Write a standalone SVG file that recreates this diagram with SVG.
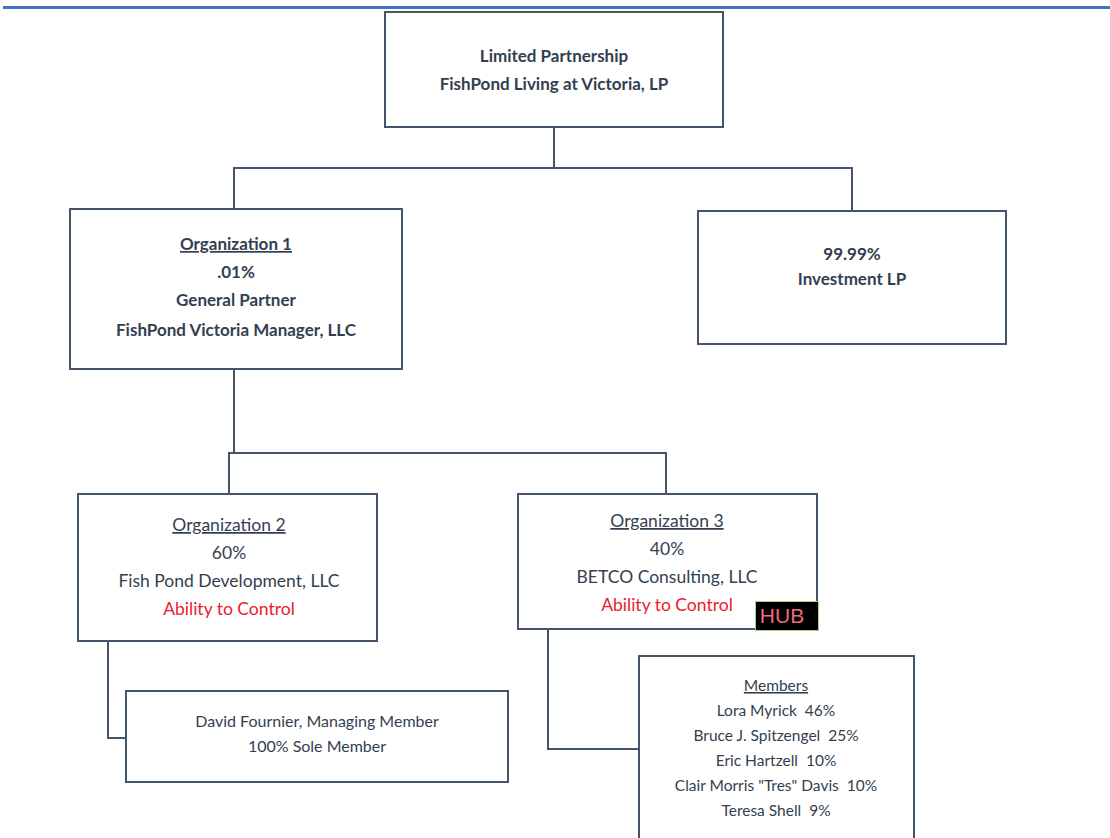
<svg xmlns="http://www.w3.org/2000/svg" width="1110" height="838" viewBox="0 0 1110 838">
<style>
.box{fill:#fff;stroke:#44546A;stroke-width:2}
.conn{fill:none;stroke:#44546A;stroke-width:2}
text{font-family:Lato,"Open Sans","Liberation Sans",sans-serif;fill:#333F50;text-anchor:middle;white-space:pre}
.b{font-weight:bold;font-size:17px}
.r{font-size:17.5px}
.s{font-size:16px}
.m{font-size:15.5px}
.red{fill:#E8212F}
.u{text-decoration:underline}
</style>
<rect width="1110" height="838" fill="#fff"/>
<line x1="3" y1="7.5" x2="1110" y2="7.5" stroke="#4472C4" stroke-width="3"/>
<g id="connectors">
<polyline class="conn" points="554,127 554,168 234,168 234,209"/>
<polyline class="conn" points="554,168 852,168 852,211"/>
<polyline class="conn" points="234,369 234,453 229,453 229,494"/>
<polyline class="conn" points="234,453 666,453 666,494"/>
<polyline class="conn" points="108,641 108,738 126,738"/>
<polyline class="conn" points="548,629 548,749 639,749"/>
</g>
<g id="lp">
<rect class="box" x="385" y="12" width="338" height="115"/>
<text class="b" x="554" y="62">Limited Partnership</text>
<text class="b" x="554" y="90">FishPond Living at Victoria, LP</text>
</g>
<g id="org1">
<rect class="box" x="70" y="209" width="332" height="160"/>
<text class="b u" x="236" y="250">Organization 1</text>
<text class="b" x="236" y="278">.01%</text>
<text class="b" x="236" y="306">General Partner</text>
<text class="b" x="236" y="336">FishPond Victoria Manager, LLC</text>
</g>
<g id="investment">
<rect class="box" x="698" y="211" width="308" height="133"/>
<text class="b" x="852" y="260">99.99%</text>
<text class="b" x="852" y="285">Investment LP</text>
</g>
<g id="org2">
<rect class="box" x="78" y="494" width="299" height="147"/>
<text class="r u" x="229" y="531">Organization 2</text>
<text class="r" x="229" y="559">60%</text>
<text class="r" x="229" y="587">Fish Pond Development, LLC</text>
<text class="r red" x="229" y="615">Ability to Control</text>
</g>
<g id="org3">
<rect class="box" x="518" y="494" width="299" height="135"/>
<text class="r u" x="667" y="527">Organization 3</text>
<text class="r" x="667" y="555">40%</text>
<text class="r" x="667" y="583">BETCO Consulting, LLC</text>
<text class="r red" x="667" y="611">Ability to Control</text>
</g>
<g id="hub">
<rect x="755.5" y="601.5" width="63" height="29" fill="#000" stroke="#A9D18E" stroke-width="1"/>
<text x="782" y="623" style="font-family:'Liberation Sans',Arial,sans-serif;font-size:21px;fill:#F06A7A">HUB</text>
</g>
<g id="david">
<rect class="box" x="126" y="691" width="382" height="91"/>
<text class="s" x="317" y="727">David Fournier, Managing Member</text>
<text class="s" x="317" y="752">100% Sole Member</text>
</g>
<g id="members">
<rect class="box" x="639" y="656" width="275" height="190"/>
<text class="m u" x="776" y="691">Members</text>
<text class="m" x="776" y="716">Lora Myrick  46%</text>
<text class="m" x="776" y="741">Bruce J. Spitzengel  25%</text>
<text class="m" x="776" y="766">Eric Hartzell  10%</text>
<text class="m" x="776" y="791">Clair Morris "Tres" Davis  10%</text>
<text class="m" x="776" y="816">Teresa Shell  9%</text>
</g>
</svg>
